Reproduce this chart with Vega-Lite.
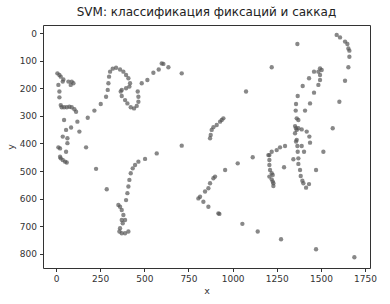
{
  "$schema": "https://vega.github.io/schema/vega-lite/v6.json",
  "width": 327,
  "height": 243,
  "autosize": {"type": "none"},
  "padding": {"left": 43, "top": 25, "right": 20, "bottom": 36},
  "background": "white",
  "title": {"text": "SVM: классификация фиксаций и саккад", "font": "DejaVu Sans", "fontSize": 12, "fontWeight": "normal", "color": "#222", "anchor": "middle", "frame": "group", "offset": 6},
  "config": {
    "view": {"stroke": "#333", "strokeWidth": 1},
    "axis": {"labelFont": "DejaVu Sans", "titleFont": "DejaVu Sans", "labelFontSize": 9, "titleFontSize": 9.5, "titleFontWeight": "normal", "labelColor": "#333", "titleColor": "#333", "tickColor": "#333", "domain": false, "grid": false, "tickSize": 3.5}
  },
  "data": {"values": [
    {"x": 7.6, "y": 146}, {"x": 18.9, "y": 152}, {"x": 26.4, "y": 158}, {"x": 41.5, "y": 168}, {"x": 37.8, "y": 176},
    {"x": 69.9, "y": 176}, {"x": 88.7, "y": 176}, {"x": 98.2, "y": 182}, {"x": 83, "y": 188}, {"x": 13.2, "y": 188},
    {"x": 18.9, "y": 212}, {"x": 18.9, "y": 233}, {"x": 26.4, "y": 261}, {"x": 32.1, "y": 269}, {"x": 45.3, "y": 269},
    {"x": 60.4, "y": 269}, {"x": 75.5, "y": 267}, {"x": 88.7, "y": 269}, {"x": 103.8, "y": 276}, {"x": 113.3, "y": 285},
    {"x": 45.3, "y": 315}, {"x": 56.6, "y": 351}, {"x": 37.8, "y": 375}, {"x": 22.7, "y": 418}, {"x": 64.2, "y": 381},
    {"x": 85, "y": 342}, {"x": 120.8, "y": 321}, {"x": 132.1, "y": 357}, {"x": 169.9, "y": 414}, {"x": 179.4, "y": 307},
    {"x": 217.1, "y": 281}, {"x": 253, "y": 257}, {"x": 283.2, "y": 231}, {"x": 292.6, "y": 206}, {"x": 296.4, "y": 182},
    {"x": 300.2, "y": 158}, {"x": 305.8, "y": 140}, {"x": 320.9, "y": 129}, {"x": 339.8, "y": 126}, {"x": 362.4, "y": 132},
    {"x": 381.3, "y": 140}, {"x": 396.4, "y": 152}, {"x": 409.6, "y": 164}, {"x": 419.1, "y": 182}, {"x": 415.3, "y": 194},
    {"x": 396.4, "y": 200}, {"x": 371.9, "y": 206}, {"x": 366.2, "y": 212}, {"x": 371.9, "y": 228}, {"x": 390.8, "y": 243},
    {"x": 404, "y": 255}, {"x": 422.9, "y": 269}, {"x": 441.7, "y": 273}, {"x": 456.8, "y": 264}, {"x": 466.3, "y": 249},
    {"x": 466.3, "y": 231}, {"x": 462.5, "y": 212}, {"x": 485.1, "y": 182}, {"x": 517.2, "y": 170}, {"x": 551.2, "y": 144},
    {"x": 581.4, "y": 132}, {"x": 598.4, "y": 110}, {"x": 607.9, "y": 112}, {"x": 636.2, "y": 124}, {"x": 711.7, "y": 146},
    {"x": 13.2, "y": 414}, {"x": 22.7, "y": 448}, {"x": 26.4, "y": 454}, {"x": 37.8, "y": 460}, {"x": 51, "y": 466},
    {"x": 60.4, "y": 469}, {"x": 56.6, "y": 430}, {"x": 64.2, "y": 399}, {"x": 226.5, "y": 492}, {"x": 287, "y": 566},
    {"x": 353, "y": 623}, {"x": 362.4, "y": 629}, {"x": 371.9, "y": 641}, {"x": 381.3, "y": 659}, {"x": 371.9, "y": 677},
    {"x": 362.4, "y": 707}, {"x": 358.7, "y": 719}, {"x": 371.9, "y": 725}, {"x": 390.8, "y": 725}, {"x": 409.6, "y": 719},
    {"x": 377.6, "y": 689}, {"x": 390.8, "y": 677}, {"x": 396.4, "y": 605}, {"x": 404, "y": 580}, {"x": 409.6, "y": 556},
    {"x": 415.3, "y": 532}, {"x": 422.9, "y": 508}, {"x": 434.2, "y": 490}, {"x": 447.4, "y": 478}, {"x": 466.3, "y": 466},
    {"x": 504, "y": 456}, {"x": 570.1, "y": 436}, {"x": 711.7, "y": 408}, {"x": 806, "y": 599}, {"x": 815.5, "y": 593},
    {"x": 834.4, "y": 611}, {"x": 862.7, "y": 629}, {"x": 843.8, "y": 574}, {"x": 862.7, "y": 562}, {"x": 872.1, "y": 544},
    {"x": 891, "y": 526}, {"x": 900.4, "y": 520}, {"x": 919.3, "y": 653},
    {"x": 1589.4, "y": 7}, {"x": 1608.3, "y": 16}, {"x": 1636.6, "y": 31}, {"x": 1649.8, "y": 40}, {"x": 1655.5, "y": 56},
    {"x": 1661.2, "y": 64}, {"x": 1661.2, "y": 86}, {"x": 1655.5, "y": 124}, {"x": 1636.6, "y": 173}, {"x": 1604.5, "y": 249},
    {"x": 1566.8, "y": 345}, {"x": 1366.7, "y": 40}, {"x": 1221.3, "y": 124}, {"x": 1076, "y": 212}, {"x": 1495, "y": 128},
    {"x": 1504.5, "y": 134}, {"x": 1485.6, "y": 140}, {"x": 1461, "y": 140}, {"x": 1495, "y": 152}, {"x": 1432.7, "y": 164},
    {"x": 1495, "y": 170}, {"x": 1396.9, "y": 192}, {"x": 1485.6, "y": 188}, {"x": 1461, "y": 216}, {"x": 1368.6, "y": 228},
    {"x": 1438.4, "y": 255}, {"x": 1359.1, "y": 257}, {"x": 1410.1, "y": 281}, {"x": 1357.2, "y": 281}, {"x": 1362.9, "y": 309},
    {"x": 1372.3, "y": 315}, {"x": 1353.5, "y": 337}, {"x": 1359.1, "y": 345}, {"x": 1372.3, "y": 345}, {"x": 1391.2, "y": 349},
    {"x": 1419.5, "y": 357}, {"x": 1362.9, "y": 351}, {"x": 1353.5, "y": 363}, {"x": 1434.6, "y": 375}, {"x": 1362.9, "y": 387},
    {"x": 1366.7, "y": 409}, {"x": 1391.2, "y": 409}, {"x": 1368.6, "y": 430}, {"x": 1438.4, "y": 397}, {"x": 1404.4, "y": 430},
    {"x": 1513.9, "y": 430}, {"x": 1296.8, "y": 409}, {"x": 1268.5, "y": 414}, {"x": 1249.6, "y": 424}, {"x": 1221.3, "y": 430},
    {"x": 1208.1, "y": 442}, {"x": 1113.7, "y": 450}, {"x": 947.6, "y": 309}, {"x": 938.2, "y": 315}, {"x": 928.7, "y": 321},
    {"x": 909.9, "y": 333}, {"x": 891, "y": 341}, {"x": 881.5, "y": 351}, {"x": 875.9, "y": 369}, {"x": 872.1, "y": 381},
    {"x": 1359.1, "y": 393}, {"x": 1344, "y": 457}, {"x": 1372.3, "y": 454}, {"x": 1372.3, "y": 474}, {"x": 1381.8, "y": 496},
    {"x": 1385.6, "y": 518}, {"x": 1395, "y": 535}, {"x": 1400.7, "y": 544}, {"x": 1415.8, "y": 560}, {"x": 1432.7, "y": 547},
    {"x": 1472.4, "y": 496}, {"x": 1202.4, "y": 442}, {"x": 1208.1, "y": 460}, {"x": 1208.1, "y": 478}, {"x": 1211.9, "y": 496},
    {"x": 1221.3, "y": 508}, {"x": 1208.1, "y": 520}, {"x": 1221.3, "y": 530}, {"x": 1227, "y": 538}, {"x": 1230.8, "y": 544},
    {"x": 1230.8, "y": 554}, {"x": 1227, "y": 514}, {"x": 1291.2, "y": 486}, {"x": 1028.8, "y": 472}, {"x": 957.6, "y": 496},
    {"x": 925, "y": 655}, {"x": 1055.2, "y": 691}, {"x": 1142, "y": 719}, {"x": 1274.2, "y": 747}, {"x": 1472.4, "y": 783},
    {"x": 1689.5, "y": 812}
  ]},
  "mark": {"type": "circle", "size": 19, "color": "#555555", "opacity": 0.7},
  "encoding": {
    "x": {"field": "x", "type": "quantitative", "title": "x", "scale": {"domain": [-74, 1778], "nice": false, "zero": false}, "axis": {"values": [0, 250, 500, 750, 1000, 1250, 1500, 1750], "format": "d", "titlePadding": 2, "labelPadding": 3}},
    "y": {"field": "y", "type": "quantitative", "title": "y", "scale": {"domain": [-29, 851], "nice": false, "zero": false, "reverse": true}, "axis": {"values": [0, 100, 200, 300, 400, 500, 600, 700, 800], "format": "d", "titlePadding": 4, "labelPadding": 3}}
  }
}
